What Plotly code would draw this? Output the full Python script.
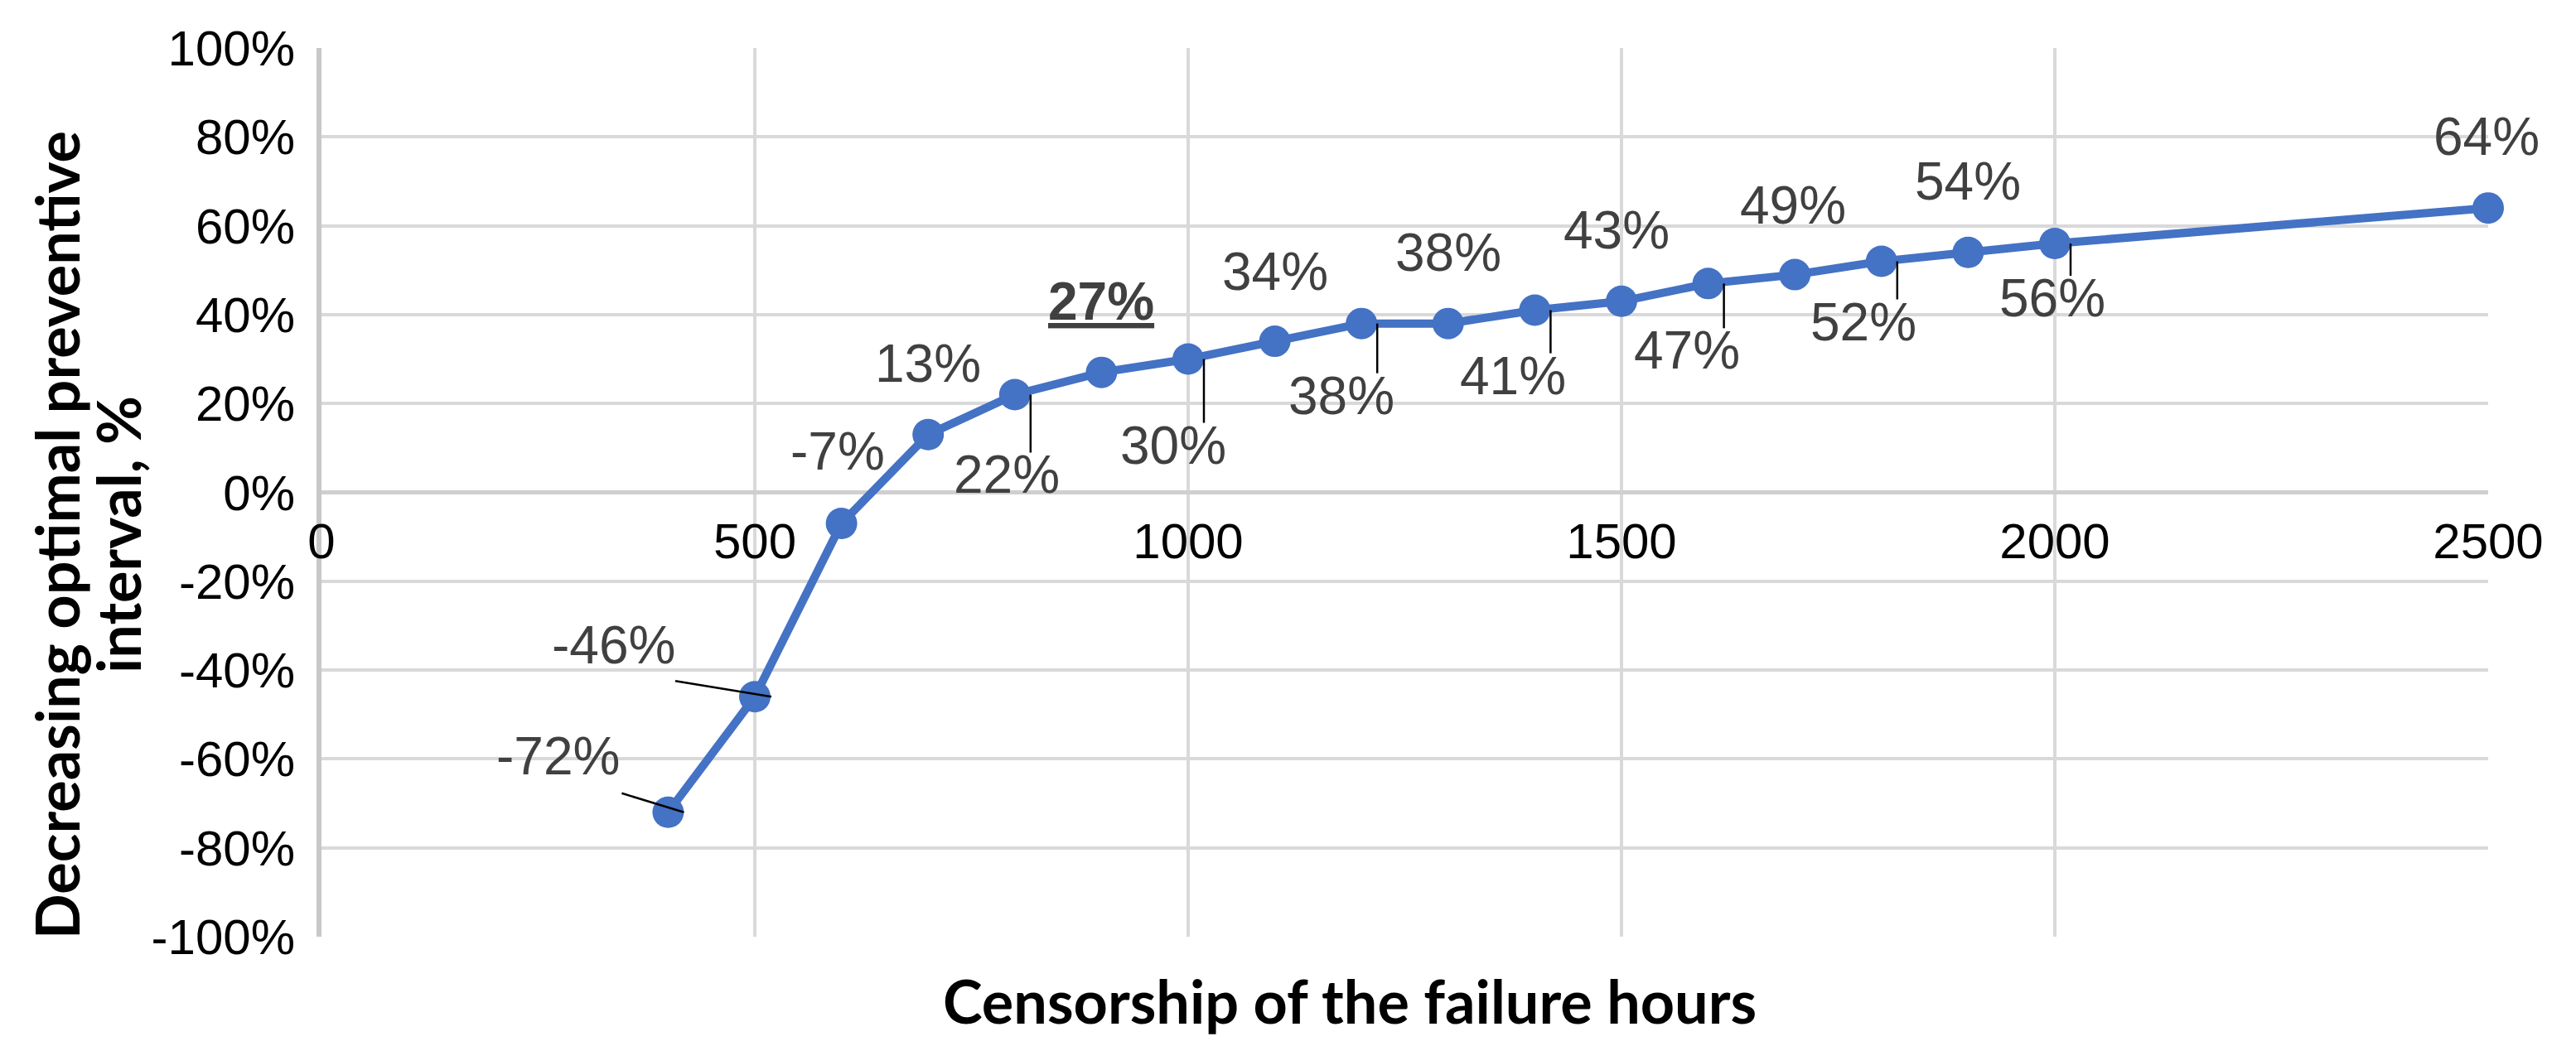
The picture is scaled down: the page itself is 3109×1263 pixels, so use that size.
import plotly.graph_objects as go

# censorship of failure hours vs decrease of optimal preventive interval (%)
hours = [400, 500, 600, 700, 800, 900, 1000, 1100, 1200, 1300, 1400, 1500,
         1600, 1700, 1800, 1900, 2000, 2500]
decrease = [-72, -46, -7, 13, 22, 27, 30, 34, 38, 38, 41, 43, 47, 49, 52, 54, 56, 64]

x_ticks = [0, 500, 1000, 1500, 2000, 2500]
y_ticks = [-100, -80, -60, -40, -20, 0, 20, 40, 60, 80, 100]
y_ticktext = [f"{t}%" for t in y_ticks]

# label offsets in pixels (dx, dy downwards) and optional leader line (x0, y0, x1, y1)
label_pos = [
    (-133, -68, (-56, -23, 19, 0)),
    (-171, -62, (-96, -19, 20, 0)),
    (-5, -87, None),
    (0, -86, None),
    (-10, 97, "v"),
    (0, -86, None),
    (-18, 104, "v"),
    (0, -84, None),
    (-24, 87, "v"),
    (0, -86, None),
    (-26, 79, "v"),
    (-6, -86, None),
    (-26, 81, "v"),
    (-2, -84, None),
    (-22, 73, "v"),
    (0, -86, None),
    (-3, 66, "v"),
    (-2, -86, None),
]
bold_label = 900

BLUE = "#4472C4"
GRID = "#D9D9D9"

fig = go.Figure()
fig.add_trace(go.Scatter(
    x=hours, y=decrease, mode="lines+markers",
    line=dict(color=BLUE, width=10),
    marker=dict(color=BLUE, size=38),
    cliponaxis=False, showlegend=False,
))

annotations = []
shapes = []
for h, v, (dx, dy, leader) in zip(hours, decrease, label_pos):
    font = dict(family="Liberation Sans Narrow, Arial Narrow, sans-serif", size=64, color="#404040")
    if h == bold_label:
        font.update(weight="bold", lineposition="under")
    annotations.append(dict(x=h, y=v, xref="x", yref="y", text=f"{v}%", showarrow=False,
                            xshift=dx, yshift=-dy, font=font))
    if leader == "v":
        leader = (19, 0, 19, dy - 27)
    if leader:
        x0, y0, x1, y1 = leader
        shapes.append(dict(type="line", xref="x", yref="y", xsizemode="pixel", ysizemode="pixel",
                           xanchor=h, yanchor=v, x0=x0, x1=x1, y0=-y0, y1=-y1,
                           line=dict(color="black", width=2.5), layer="above"))

title_font = dict(family="Lato, Carlito, sans-serif", size=72, color="black", weight="bold")
annotations.append(dict(text="Censorship of the failure hours", xref="paper", yref="paper",
                        x=0.4746, y=-0.072, showarrow=False, xanchor="center", yanchor="middle",
                        font=title_font))
annotations.append(dict(text="Decreasing optimal preventive", xref="paper", yref="paper",
                        x=0, y=0.452, xshift=-320, showarrow=False, textangle=-90,
                        xanchor="center", yanchor="middle", font=title_font))
annotations.append(dict(text="interval, %", xref="paper", yref="paper",
                        x=0, y=0.452, xshift=-246, showarrow=False, textangle=-90,
                        xanchor="center", yanchor="middle", font=title_font))

tick_font = dict(family="Liberation Sans, Arial, sans-serif", size=60, color="black")

fig.update_layout(
    width=3109, height=1263,
    margin=dict(l=380, r=114, t=50, b=140),
    plot_bgcolor="white", paper_bgcolor="white",
    annotations=annotations, shapes=shapes,
    xaxis=dict(range=[0, 2500], tickvals=x_ticks, ticktext=[str(t) for t in x_ticks],
               showgrid=True, gridcolor=GRID, gridwidth=4, zeroline=False, showline=False,
               anchor="free", position=0.5, ticks="", ticklabelstandoff=18,
               tickfont=tick_font),
    yaxis=dict(range=[-100, 100], tickvals=y_ticks, ticktext=y_ticktext,
               showgrid=True, gridcolor=GRID, gridwidth=4,
               zeroline=True, zerolinecolor="#CFCFCF", zerolinewidth=5,
               showline=True, linecolor="#C8C8C8", linewidth=6,
               ticks="", ticklabelstandoff=14, tickfont=tick_font),
)

fig.write_html("out.html")
